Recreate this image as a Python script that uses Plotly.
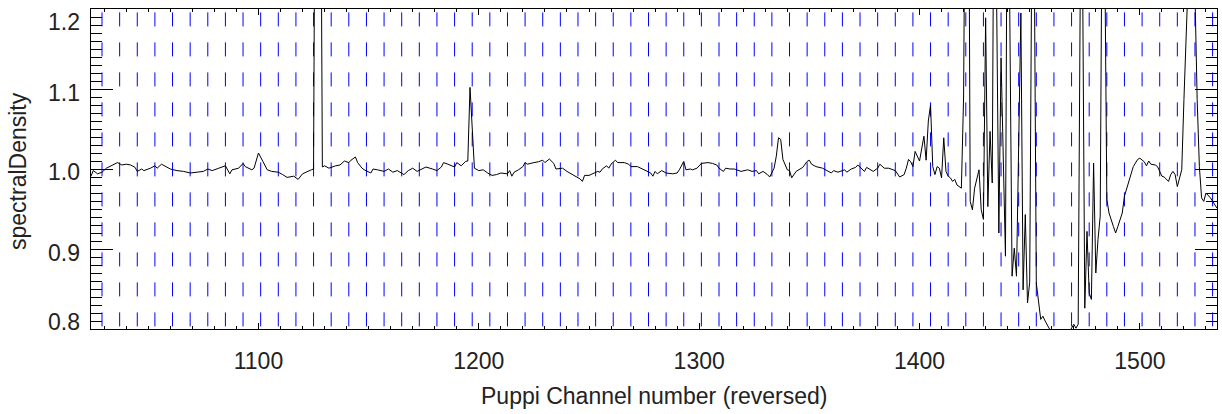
import plotly.graph_objects as go

# ---------------- data ----------------
channels = [
    1024, 1025, 1027, 1029, 1031, 1033, 1036, 1038, 1040, 1042, 1044, 1045, 1047, 1048,
    1051, 1053, 1054, 1056, 1058, 1060, 1063, 1066, 1069, 1072, 1075, 1077, 1079, 1082,
    1084, 1085, 1087, 1088, 1091, 1093, 1094, 1097, 1098, 1100, 1102, 1104, 1106, 1109,
    1111, 1113, 1116, 1118, 1120, 1122, 1124, 1125, 1126, 1127, 1128, 1129, 1130, 1132,
    1135, 1137, 1139, 1141, 1142, 1144, 1145, 1147, 1148, 1151, 1152, 1154, 1157, 1159,
    1161, 1163, 1165, 1166, 1168, 1170, 1172, 1174, 1176, 1179, 1181, 1183, 1184, 1186,
    1189, 1190, 1192, 1194, 1195, 1196, 1197, 1198, 1200, 1202, 1204, 1206, 1208, 1210,
    1213, 1214, 1215, 1216, 1218, 1220, 1221, 1222, 1225, 1227, 1229, 1230, 1232, 1234,
    1235, 1238, 1240, 1242, 1244, 1246, 1247, 1248, 1250, 1252, 1254, 1255, 1256, 1258,
    1259, 1260, 1262, 1263, 1266, 1268, 1269, 1272, 1274, 1276, 1278, 1279, 1280, 1281,
    1283, 1285, 1288, 1290, 1291, 1293, 1294, 1296, 1297, 1299, 1301, 1304, 1306, 1308,
    1309, 1311, 1312, 1314, 1316, 1319, 1322, 1324, 1326, 1327, 1329, 1331, 1332, 1334,
    1335, 1336, 1337, 1338, 1340, 1341, 1342, 1344, 1345, 1347, 1349, 1350, 1351, 1353,
    1356, 1358, 1360, 1361, 1363, 1366, 1367, 1369, 1371, 1372, 1373, 1375, 1376, 1378,
    1379, 1381, 1382, 1384, 1386, 1388, 1389, 1391, 1393, 1394, 1395, 1396, 1397, 1398,
    1400, 1402, 1403, 1404, 1405, 1406, 1407, 1408, 1409, 1410, 1411, 1412, 1413, 1414,
    1415, 1416, 1417, 1419, 1420, 1421, 1422, 1423, 1424, 1425, 1427, 1428, 1429, 1430,
    1431, 1432, 1433, 1434, 1435, 1436, 1437, 1439, 1440, 1442, 1443, 1444, 1446, 1447,
    1448, 1449, 1450, 1451, 1452, 1453, 1455, 1456, 1457, 1459, 1461, 1465, 1468, 1469,
    1470, 1471, 1472, 1473, 1474, 1475, 1476, 1477, 1478, 1479, 1480, 1481, 1482, 1483,
    1484, 1485, 1486, 1488, 1489, 1490, 1492, 1493, 1495, 1497, 1499, 1500, 1502, 1503,
    1504, 1505, 1507, 1508, 1510, 1511, 1513, 1514, 1515, 1516, 1517, 1519, 1520, 1521,
    1522, 1524, 1525, 1526, 1527, 1528, 1529, 1530, 1532, 1533, 1535,
]
spectral_density = [
    0.991, 0.998, 0.994, 0.996, 1.001, 1.004, 1.008, 1.005, 1.006, 1.005, 1.002, 0.997, 1.000, 0.998,
    1.001, 1.004, 1.001, 1.006, 1.003, 1.000, 0.998, 0.997, 0.995, 0.996, 0.997, 1.000, 0.998, 1.001,
    1.003, 1.004, 0.994, 0.999, 1.001, 1.007, 1.003, 0.999, 1.001, 1.020, 1.0095, 0.999, 0.997, 0.996,
    0.993, 0.9895, 0.991, 0.987, 0.994, 0.997, 0.999, 1.000, 1.600, 1.700, 1.550, 1.0025, 1.004, 1.001,
    1.004, 1.005, 1.010, 1.008, 1.011, 1.015, 1.008, 1.001, 0.999, 0.995, 1.000, 0.999, 0.997, 1.000,
    0.996, 0.998, 0.994, 0.993, 0.998, 1.001, 0.997, 1.000, 1.0025, 1.000, 0.998, 1.0025, 1.008, 1.006,
    1.0025, 1.008, 1.004, 1.0095, 1.010, 1.102, 1.050, 1.001, 0.998, 0.999, 0.995, 0.992, 0.993, 0.995,
    0.994, 0.998, 0.991, 0.996, 0.999, 1.003, 1.008, 1.006, 1.008, 1.009, 1.011, 1.008, 1.0125, 1.007,
    1.000, 1.001, 0.997, 0.994, 0.991, 0.9875, 0.9845, 0.992, 0.992, 0.994, 0.997, 0.996, 1.000, 1.004,
    1.001, 1.006, 1.011, 1.008, 1.008, 1.006, 1.003, 1.003, 1.000, 0.997, 0.995, 0.991, 0.997, 0.994,
    0.998, 0.995, 0.994, 0.995, 0.999, 1.0095, 0.999, 1.000, 0.999, 1.001, 1.007, 1.008, 1.007, 1.005,
    1.001, 0.997, 1.001, 1.000, 1.000, 0.997, 0.999, 0.997, 0.998, 0.994, 0.997, 0.993, 0.990, 1.001,
    1.016, 1.039, 1.037, 1.012, 0.999, 0.998, 0.989, 0.997, 0.999, 1.002, 1.0095, 1.011, 1.006, 1.003,
    1.001, 0.998, 0.995, 0.998, 0.996, 0.999, 0.996, 1.000, 1.002, 1.005, 1.002, 0.997, 1.002, 0.999,
    0.997, 1.001, 1.006, 1.001, 1.001, 0.999, 0.998, 0.990, 0.993, 1.001, 1.012, 1.009, 1.003, 1.022,
    1.010, 1.041, 1.011, 1.060, 1.080, 1.003, 0.993, 1.003, 1.001, 0.989, 1.039, 0.997, 0.991, 0.989,
    0.9845, 0.987, 0.980, 0.976, 1.090, 1.500, 1.600, 0.9595, 0.949, 0.976, 0.999, 0.949, 0.937, 1.189,
    0.953, 1.047, 0.9825, 1.500, 1.250, 0.920, 1.139, 0.891, 1.500, 0.866, 0.901, 0.866, 1.195, 0.849,
    0.943, 0.8325, 0.8585, 1.300, 1.300, 0.8575, 0.812, 0.816, 0.810, 0.800, 0.775, 0.765, 0.796, 0.801,
    0.806, 0.801, 0.806, 1.250, 1.250, 0.826, 0.922, 0.845, 0.837, 1.0075, 0.870, 0.912, 0.941, 1.400,
    1.300, 0.962, 0.945, 0.928, 0.920, 0.928, 0.945, 0.966, 0.9845, 1.003, 1.012, 1.0135, 1.009, 1.004,
    1.010, 1.006, 1.005, 1.003, 0.991, 0.990, 0.9845, 0.993, 0.997, 0.993, 0.978, 0.999, 1.087, 1.220,
    1.400, 1.400, 1.220, 1.087, 1.003, 0.964, 0.9595, 0.970, 0.964, 0.9595, 0.951,
]
marker_channels = list(range(1029, 1536, 8))   # blue dashed channel markers
x_tick_values = [1100, 1200, 1300, 1400, 1500]
y_tick_values = [0.8, 0.9, 1.0, 1.1, 1.2]
y_tick_labels = ["0.8", "0.9", "1.0", "1.1", "1.2"]
x_range = [1024, 1535]
y_range = [0.8, 1.2]

# ---------------- styling ----------------
FONT = "Liberation Sans, Arial, Helvetica, sans-serif"
TEXT_COLOR = "#222222"
FONT_SIZE = 23
y_label_shift = [7, -4, -3, -3.5, -12.5]   # IDL-style label offsets (px)

fig = go.Figure()

for c in marker_channels:
    fig.add_shape(
        type="line", xref="x", yref="paper", x0=c, x1=c, y0=1, y1=0,
        line=dict(color="#0000ff", width=1, dash="0px,3.4px,14px,12.6px"),
        layer="below",
    )

fig.add_trace(go.Scatter(
    x=channels, y=spectral_density, mode="lines",
    line=dict(color="black", width=1), showlegend=False, hoverinfo="skip",
))

for v, lab, sh in zip(y_tick_values, y_tick_labels, y_label_shift):
    fig.add_annotation(
        x=0, xref="paper", y=v, yref="y", text=lab, showarrow=False,
        xanchor="right", yanchor="middle", xshift=-9, yshift=sh,
        font=dict(family=FONT, size=FONT_SIZE, color=TEXT_COLOR),
    )

fig.add_annotation(
    x=0.5, xref="paper", y=0, yref="paper", text="Puppi Channel number (reversed)",
    showarrow=False, xanchor="center", yanchor="middle", yshift=-67,
    font=dict(family=FONT, size=FONT_SIZE, color=TEXT_COLOR),
)
fig.add_annotation(
    x=0, xref="paper", y=0.5, yref="paper", text="spectralDensity", textangle=-90,
    showarrow=False, xanchor="center", yanchor="middle", xshift=-73, yshift=-2,
    font=dict(family=FONT, size=FONT_SIZE, color=TEXT_COLOR),
)

fig.update_layout(
    width=1222, height=414, autosize=False,
    margin=dict(l=91, r=5, t=9, b=85, pad=0),
    paper_bgcolor="white", plot_bgcolor="white",
    font=dict(family=FONT, size=FONT_SIZE, color=TEXT_COLOR),
    showlegend=False,
    xaxis=dict(
        range=x_range, showline=True, linecolor="black", linewidth=1, mirror="allticks",
        ticks="inside", ticklen=6, tickwidth=1, tickcolor="black",
        tickmode="array", tickvals=x_tick_values,
        minor=dict(ticks="inside", ticklen=3, tickwidth=1, tickcolor="black",
                   dtick=10, tick0=1000, showgrid=False),
        showgrid=False, zeroline=False, ticklabelstandoff=11,
        tickfont=dict(family=FONT, size=FONT_SIZE, color=TEXT_COLOR),
    ),
    yaxis=dict(
        range=y_range, showline=True, linecolor="black", linewidth=1, mirror="allticks",
        ticks="inside", ticklen=22, tickwidth=1, tickcolor="black",
        tickmode="array", tickvals=y_tick_values, showticklabels=False,
        minor=dict(ticks="inside", ticklen=11, tickwidth=1, tickcolor="black",
                   dtick=0.01, tick0=0.8, showgrid=False),
        showgrid=False, zeroline=False,
    ),
)

fig.write_html(
    "out.html",
    config={"displayModeBar": False, "staticPlot": True},
    post_script="document.body.style.margin='0';document.body.style.overflow='hidden';",
)
